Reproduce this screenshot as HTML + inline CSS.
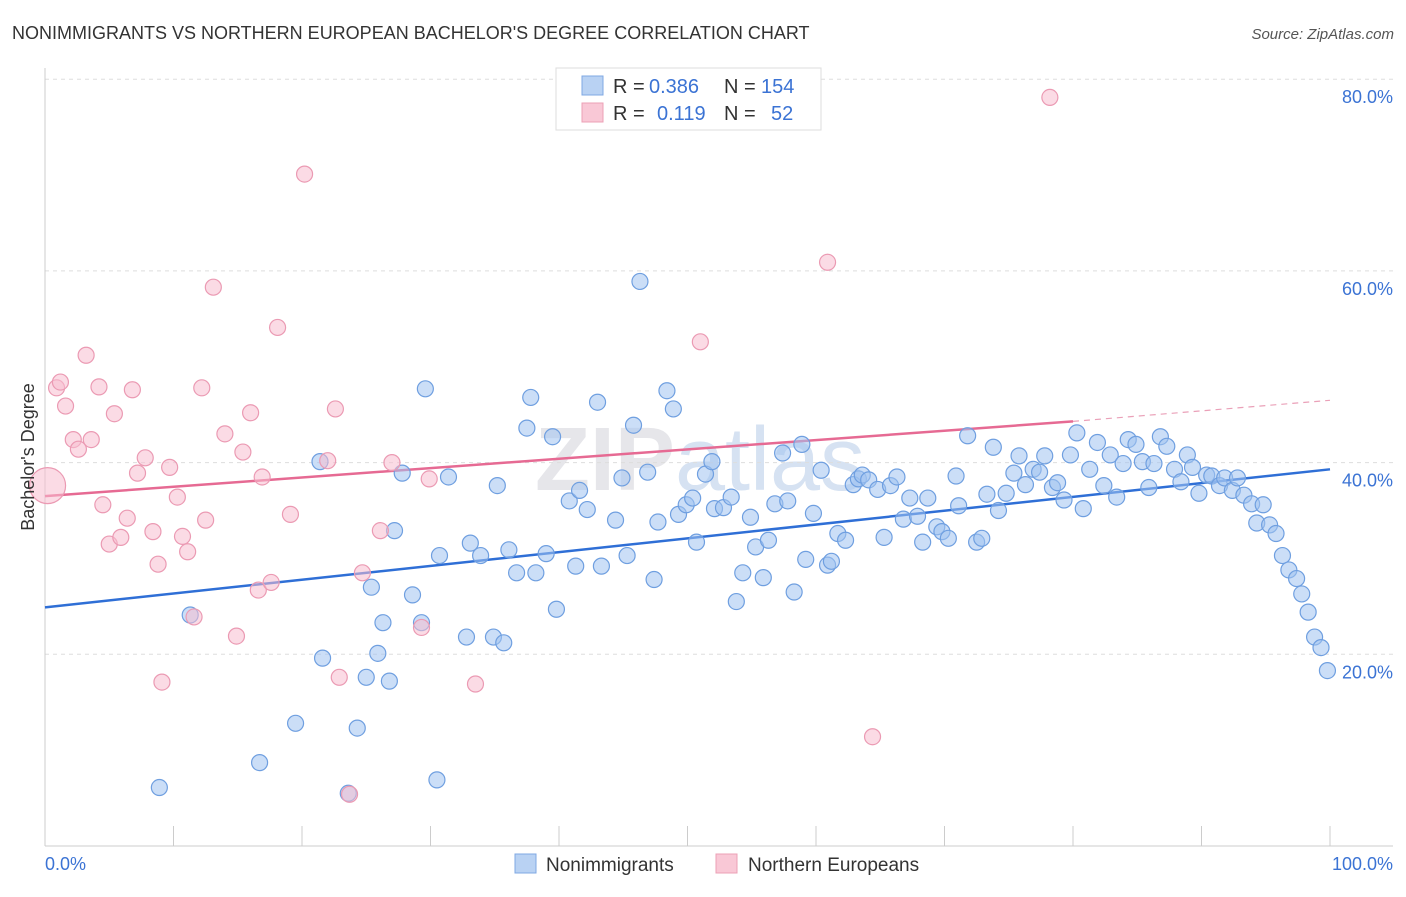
<!DOCTYPE html>
<html><head><meta charset="utf-8"><style>
body{margin:0;background:#fff;font-family:"Liberation Sans",sans-serif;}
svg text{font-family:"Liberation Sans",sans-serif;}
</style></head><body>
<svg id="chart" width="1406" height="892" xmlns="http://www.w3.org/2000/svg">
<text x="12" y="39" font-size="18" fill="#333">NONIMMIGRANTS VS NORTHERN EUROPEAN BACHELOR'S DEGREE CORRELATION CHART</text>
<text x="1394" y="39" font-size="15" fill="#555" font-style="italic" text-anchor="end">Source: ZipAtlas.com</text>
<text x="700" y="490" font-size="90" fill="#e6e6ea" text-anchor="middle" font-weight="bold">ZIP<tspan fill="#d6e2f2" font-weight="normal">atlas</tspan></text>
<g id="grid"></g>
<g id="lines"></g>
<g id="pts"></g>
<text transform="translate(34,457) rotate(-90)" font-size="18" fill="#333" text-anchor="middle">Bachelor's Degree</text>
<text x="45" y="870" font-size="18" fill="#3b73d4">0.0%</text>
<text x="1393" y="870" font-size="18" fill="#3b73d4" text-anchor="end">100.0%</text>
<g>
<rect x="556" y="68" width="265" height="62" fill="#fff" stroke="#ddd"/>
<rect x="582" y="76" width="21" height="19" fill="#b9d2f3" stroke="#7fa8e3"/>
<rect x="582" y="103" width="21" height="19" fill="#f9c8d6" stroke="#eca0b6"/>
<text x="613" y="93" font-size="20" fill="#333">R =</text>
<text x="649" y="93" font-size="20" fill="#3b73d4">0.386</text>
<text x="724" y="93" font-size="20" fill="#333">N =</text>
<text x="761" y="93" font-size="20" fill="#3b73d4">154</text>
<text x="613" y="120" font-size="20" fill="#333">R =</text>
<text x="657" y="120" font-size="20" fill="#3b73d4">0.119</text>
<text x="724" y="120" font-size="20" fill="#333">N =</text>
<text x="771" y="120" font-size="20" fill="#3b73d4">52</text>
</g>
<g>
<rect x="515" y="854" width="21" height="19" fill="#b9d2f3" stroke="#7fa8e3"/>
<text x="546" y="871" font-size="19" fill="#333">Nonimmigrants</text>
<rect x="716" y="854" width="21" height="19" fill="#f9c8d6" stroke="#eca0b6"/>
<text x="748" y="871" font-size="19" fill="#333">Northern Europeans</text>
</g>
</svg>
<script>
const yTicks=[20,40,60,80];
const xTicks=[0,10,20,30,40,50,60,70,80,90,100];
const blueX=[8.9,16.7,19.5,24.3,21.6,23.6,25.0,26.8,25.9,26.3,25.4,28.6,29.3,11.3,21.4,27.2,27.8,29.6,31.4,30.7,33.1,33.9,35.2,36.1,36.7,38.2,37.8,37.5,39.5,39.0,39.8,32.8,34.9,35.7,30.5,41.3,40.8,41.6,42.2,43.0,43.3,44.4,45.3,45.8,44.9,46.9,46.3,48.4,48.9,47.4,47.7,49.3,49.9,50.4,50.7,51.4,51.9,52.1,52.8,53.4,53.8,54.3,54.9,55.3,55.9,56.3,57.4,56.8,57.8,58.3,58.9,59.2,59.8,60.4,60.9,61.2,61.7,62.3,62.9,63.3,63.6,64.1,64.8,65.3,65.8,66.3,66.8,67.3,67.9,68.3,68.7,69.4,69.8,70.3,70.9,71.1,71.8,72.5,72.9,73.3,73.8,74.2,74.8,75.4,75.8,76.3,76.9,77.4,77.8,78.4,78.8,79.3,79.8,80.3,80.8,81.3,81.9,82.4,82.9,83.4,83.9,84.3,84.9,85.4,85.9,86.3,86.8,87.3,87.9,88.4,88.9,89.3,89.8,90.4,90.8,91.4,91.8,92.4,92.8,93.3,93.9,94.3,94.8,95.3,95.8,96.3,96.8,97.4,97.8,98.3,98.8,99.3,99.8];
const blueY=[6.1,8.7,12.8,12.3,19.6,5.5,17.6,17.2,20.1,23.3,27.0,26.2,23.3,24.1,40.1,32.9,38.9,47.7,38.5,30.3,31.6,30.3,37.6,30.9,28.5,28.5,46.8,43.6,42.7,30.5,24.7,21.8,21.8,21.2,6.9,29.2,36.0,37.1,35.1,46.3,29.2,34.0,30.3,43.9,38.4,39.0,58.9,47.5,45.6,27.8,33.8,34.6,35.6,36.3,31.7,38.8,40.1,35.2,35.3,36.4,25.5,28.5,34.3,31.2,28.0,31.9,41.0,35.7,36.0,26.5,41.9,29.9,34.7,39.2,29.3,29.7,32.6,31.9,37.7,38.3,38.7,38.2,37.2,32.2,37.6,38.5,34.1,36.3,34.4,31.7,36.3,33.3,32.8,32.1,38.6,35.5,42.8,31.7,32.1,36.7,41.6,35.0,36.8,38.9,40.7,37.7,39.3,39.0,40.7,37.4,37.9,36.1,40.8,43.1,35.2,39.3,42.1,37.6,40.8,36.4,39.9,42.4,41.9,40.1,37.4,39.9,42.7,41.7,39.3,38.0,40.8,39.5,36.8,38.7,38.6,37.6,38.4,37.1,38.4,36.6,35.7,33.7,35.6,33.5,32.6,30.3,28.8,27.9,26.3,24.4,21.8,20.7,18.3];
const pinkX=[0.2,0.9,1.2,1.6,2.2,2.6,3.2,3.6,4.2,4.5,5.0,5.4,5.9,6.4,6.8,7.2,7.8,8.4,8.8,9.1,9.7,10.3,10.7,11.1,11.6,12.2,12.5,13.1,14.0,14.9,15.4,16.0,16.6,16.9,17.6,18.1,19.1,20.2,22.0,22.6,22.9,23.7,24.7,26.1,27.0,29.3,29.9,33.5,51.0,60.9,64.4,78.2];
const pinkY=[37.6,47.8,48.4,45.9,42.4,41.4,51.2,42.4,47.9,35.6,31.5,45.1,32.2,34.2,47.6,38.9,40.5,32.8,29.4,17.1,39.5,36.4,32.3,30.7,23.9,47.8,34.0,58.3,43.0,21.9,41.1,45.2,26.7,38.5,27.5,54.1,34.6,70.1,40.2,45.6,17.6,5.4,28.5,32.9,40.0,22.8,38.3,16.9,52.6,60.9,11.4,78.1];
const blueTrend=[0,24.9,100,39.3];
const pinkTrend=[0,36.5,80,44.3,100,46.5];
const X=v=>45+v*12.85, Y=v=>846-v*9.585;
const NS='http://www.w3.org/2000/svg';
function mk(tag,at,parent){const e=document.createElementNS(NS,tag);for(const k in at)e.setAttribute(k,at[k]);parent.appendChild(e);return e;}
const grid=document.getElementById('grid');
yTicks.forEach(t=>{
 const l=mk('line',{x1:45,x2:1393,y1:Y(t),y2:Y(t),stroke:'#ddd','stroke-dasharray':'4,4'},grid);
 
 
 const tx=mk('text',{x:1393,y:Y(t)+24,'font-size':18,fill:'#3b73d4','text-anchor':'end'},grid);
 tx.textContent=t.toFixed(1)+'%';
 
 
});
mk('line',{x1:45,x2:45,y1:68,y2:846,stroke:'#ccc'},grid);
mk('line',{x1:45,x2:1393,y1:846,y2:846,stroke:'#ccc'},grid);
xTicks.forEach(t=>{
 const l=mk('line',{x1:X(t),x2:X(t),y1:826,y2:846,stroke:'#ccc'},grid);
 
 
});
const pts=document.getElementById('pts');
blueX.forEach((v,i)=>{
 const c=mk('circle',{cx:X(v),cy:Y(blueY[i]),r:8,fill:'rgba(160,195,240,0.55)',stroke:'#6f9fe0','stroke-width':1.2},pts);
 
 
});
pinkX.forEach((v,i)=>{
 const c=mk('circle',{cx:X(v),cy:Y(pinkY[i]),r:i===0?18:8,fill:'rgba(248,190,208,0.55)',stroke:'#eb9ab3','stroke-width':1.2},pts);
 
 
});
const lines=document.getElementById('lines');
const bl=mk('line',{x1:X(blueTrend[0]),y1:Y(blueTrend[1]),x2:X(blueTrend[2]),y2:Y(blueTrend[3]),stroke:'#2f6fd6','stroke-width':2.5},lines);


const pl=mk('line',{x1:X(pinkTrend[0]),y1:Y(pinkTrend[1]),x2:X(pinkTrend[2]),y2:Y(pinkTrend[3]),stroke:'#e66a93','stroke-width':2.5},lines);


const pd=mk('line',{x1:X(pinkTrend[2]),y1:Y(pinkTrend[3]),x2:X(pinkTrend[4]),y2:Y(pinkTrend[5]),stroke:'#eaa0b8','stroke-width':1.2,'stroke-dasharray':'6,5'},lines);


</script>
</body></html>
